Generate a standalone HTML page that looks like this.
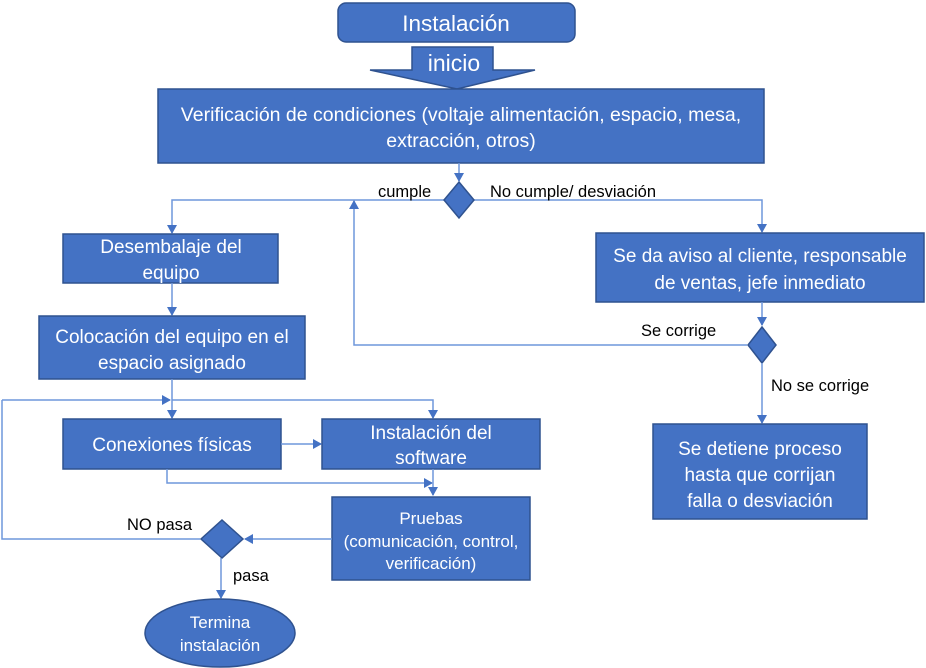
<!DOCTYPE html>
<html><head><meta charset="utf-8"><style>
html,body{margin:0;padding:0;background:#fff;}
svg{display:block;font-family:"Liberation Sans",sans-serif;}
.b{fill:#4472C4;stroke:#2F528F;stroke-width:1.5;}
.t{fill:#fff;font-size:19px;text-anchor:middle;}
.l{fill:#000;font-size:16.5px;}
.c{stroke:#6F97DB;stroke-width:1.5;fill:none;}
</style></head><body>
<svg width="926" height="668" viewBox="0 0 926 668" xmlns="http://www.w3.org/2000/svg">
<defs><marker id="a" markerWidth="10" markerHeight="10" refX="8" refY="5" orient="auto" markerUnits="userSpaceOnUse"><path d="M0,0 L9,5 L0,10 z" fill="#4472C4"/></marker></defs>
<rect class="b" x="338" y="3" width="237" height="39" rx="8"/>
<text class="t" x="456" y="31" style="font-size:22.5px">Instalación</text>
<path class="b" d="M412,47 H493 V70 H535 L457,89 L370,70 H412 Z"/>
<text class="t" x="454" y="71" style="font-size:23px">inicio</text>
<rect class="b" x="158" y="89" width="606" height="74"/>
<text class="t" x="461" y="121" style="font-size:19.5px">Verificación de condiciones (voltaje alimentación, espacio, mesa,</text>
<text class="t" x="461" y="147" style="font-size:19.5px">extracción, otros)</text>
<line class="c" x1="459" y1="163" x2="459" y2="181" marker-end="url(#a)"/>
<path class="c" d="M445,200 H172 V233" marker-end="url(#a)"/>
<path class="c" d="M474,200 H762 V232" marker-end="url(#a)"/>
<path class="b" d="M459,182 L474,200 L459,218 L444,200 Z"/>
<text class="l" x="378" y="197">cumple</text>
<text class="l" x="490" y="197">No cumple/ desviación</text>
<rect class="b" x="63" y="234" width="215" height="49"/>
<text class="t" x="171" y="253">Desembalaje del</text>
<text class="t" x="171" y="279">equipo</text>
<line class="c" x1="172" y1="283" x2="172" y2="315" marker-end="url(#a)"/>
<rect class="b" x="39" y="316" width="266" height="63"/>
<text class="t" x="172" y="343">Colocación del equipo en el</text>
<text class="t" x="172" y="369">espacio asignado</text>
<rect class="b" x="596" y="233" width="328" height="69"/>
<text class="t" x="760" y="262">Se da aviso al cliente, responsable</text>
<text class="t" x="760" y="289">de ventas, jefe inmediato</text>
<line class="c" x1="762" y1="302" x2="762" y2="325" marker-end="url(#a)"/>
<path class="c" d="M747,345 H354 V201" marker-end="url(#a)"/>
<path class="b" d="M762,327 L776,345 L762,363 L748,345 Z"/>
<text class="l" x="641" y="336">Se corrige</text>
<line class="c" x1="762" y1="363" x2="762" y2="423" marker-end="url(#a)"/>
<text class="l" x="771" y="391">No se corrige</text>
<rect class="b" x="653" y="424" width="214" height="95"/>
<text class="t" x="760" y="455">Se detiene proceso</text>
<text class="t" x="760" y="481">hasta que corrijan</text>
<text class="t" x="760" y="507">falla o desviación</text>
<line class="c" x1="172" y1="379" x2="172" y2="418" marker-end="url(#a)"/>
<path class="c" d="M172,400 H433 V418" marker-end="url(#a)"/>
<line class="c" x1="2" y1="400" x2="170" y2="400" marker-end="url(#a)"/>
<rect class="b" x="63" y="419" width="218" height="50"/>
<text class="t" x="172" y="451">Conexiones físicas</text>
<line class="c" x1="281" y1="444" x2="321" y2="444" marker-end="url(#a)"/>
<rect class="b" x="322" y="419" width="218" height="50"/>
<text class="t" x="431" y="439">Instalación del</text>
<text class="t" x="431" y="464">software</text>
<path class="c" d="M167,469 V483 H432" marker-end="url(#a)"/>
<line class="c" x1="433" y1="469" x2="433" y2="495" marker-end="url(#a)"/>
<rect class="b" x="332" y="497" width="198" height="83"/>
<text class="t" x="431" y="524" style="font-size:17px">Pruebas</text>
<text class="t" x="431" y="547" style="font-size:17px">(comunicación, control,</text>
<text class="t" x="431" y="569" style="font-size:17px">verificación)</text>
<line class="c" x1="332" y1="539" x2="245" y2="539" marker-end="url(#a)"/>
<path class="c" d="M200,539 H2 V400"/>
<path class="b" d="M222,520 L243,539 L222,558 L201,539 Z"/>
<text class="l" x="127" y="530">NO pasa</text>
<line class="c" x1="221" y1="558" x2="221" y2="598" marker-end="url(#a)"/>
<text class="l" x="233" y="581">pasa</text>
<ellipse class="b" cx="220" cy="633" rx="75" ry="34"/>
<text class="t" x="220" y="628" style="font-size:17px">Termina</text>
<text class="t" x="220" y="651" style="font-size:17px">instalación</text>
</svg>
</body></html>
